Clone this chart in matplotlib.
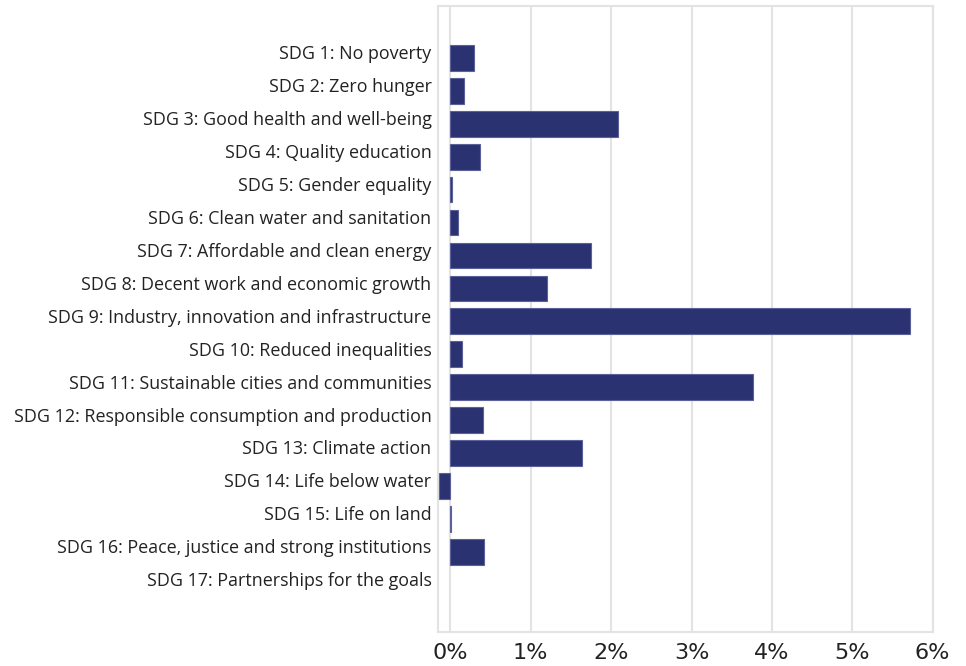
import matplotlib
matplotlib.use("Agg")
import matplotlib.pyplot as plt
from matplotlib.ticker import FuncFormatter
from matplotlib.transforms import blended_transform_factory, ScaledTranslation

labels = [
    "SDG 1: No poverty",
    "SDG 2: Zero hunger",
    "SDG 3: Good health and well-being",
    "SDG 4: Quality education",
    "SDG 5: Gender equality",
    "SDG 6: Clean water and sanitation",
    "SDG 7: Affordable and clean energy",
    "SDG 8: Decent work and economic growth",
    "SDG 9: Industry, innovation and infrastructure",
    "SDG 10: Reduced inequalities",
    "SDG 11: Sustainable cities and communities",
    "SDG 12: Responsible consumption and production",
    "SDG 13: Climate action",
    "SDG 14: Life below water",
    "SDG 15: Life on land",
    "SDG 16: Peace, justice and strong institutions",
    "SDG 17: Partnerships for the goals",
]
values = [0.29, 0.17, 2.09, 0.37, 0.017, 0.10, 1.75, 1.20, 5.72, 0.145,
          3.77, 0.41, 1.64, -0.137, 0.005, 0.415, 0.0]
xticks = [0, 1, 2, 3, 4, 5, 6]

fig = plt.figure(figsize=(9.66, 6.66), dpi=100)
ax = fig.add_axes([0.4529, 0.0515, 0.5126, 0.9395])

pos = list(range(len(labels)))
# no outline on empty bars (SDG 17)
lws = [0.8 if v != 0 else 0 for v in values]
ax.barh(pos, values, height=0.78, color="#2b3272", edgecolor="#5c6299",
        linewidth=lws, zorder=3)

ax.set_ylim(len(labels) - 1 + 1.43, -1.58)
ax.set_xlim(-0.16, 6.0)
ax.set_yticks(pos)
ax.set_yticklabels([])

# category labels sit a little above the bar centres in the original
trans = blended_transform_factory(ax.transAxes, ax.transData) + \
    ScaledTranslation(-6 / 100, 3.5 / 100, fig.dpi_scale_trans)
for p, lab in zip(pos, labels):
    ax.text(0, p, lab, transform=trans, ha="right", va="center",
            fontsize=12.9, family="Open Sans", color="#222222")

ax.set_xticks(xticks)
ax.xaxis.set_major_formatter(FuncFormatter(lambda v, _: f"{v:.0f}%"))
ax.tick_params(axis="x", labelsize=16, colors="#222222", length=0, pad=8)
ax.tick_params(axis="y", length=0)
ax.grid(axis="x", color="#e3e3e3", linewidth=1.5, zorder=0)
for s in ax.spines.values():
    s.set_color("#e3e3e3")
    s.set_linewidth(1.5)

fig.savefig("out.png", dpi=100)
